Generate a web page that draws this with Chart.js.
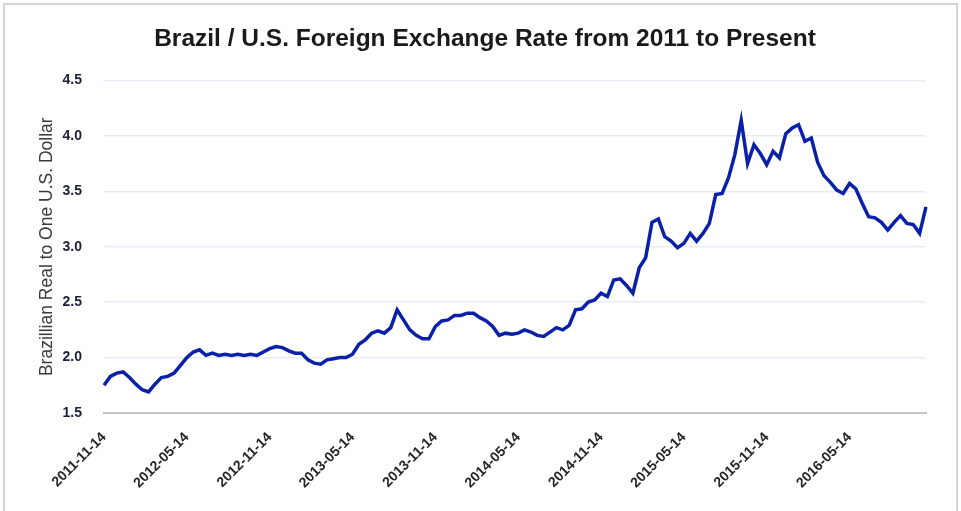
<!DOCTYPE html>
<html>
<head>
<meta charset="utf-8">
<script src="https://cdn.jsdelivr.net/npm/chart.js@4.4.0/dist/chart.umd.min.js"></script>
<style>
  html, body { margin: 0; padding: 0; background: #fff; overflow: hidden; }
  #wrap { position: relative; width: 961px; height: 511px; }
  #frame { position: absolute; left: 3px; top: 3px; width: 955px; height: 530px; border: 2px solid #d4d4d4; box-sizing: border-box; pointer-events: none; }
  canvas { position: absolute; left: 0; top: 0; }
</style>
</head>
<body>
<div id="wrap">
  <canvas id="chart" width="961" height="511"></canvas>
  <div id="frame"></div>
</div>
<script>
// ===== data (one value every two weeks) =====
const START_DATE = "2011-11-14";
const STEP_DAYS = 14;
const POINTS_PER_TICK = 13;   // ~6 months between labelled dates

const tickLabels = [
  "2011-11-14", "2012-05-14", "2012-11-14", "2013-05-14", "2013-11-14",
  "2014-05-14", "2014-11-14", "2015-05-14", "2015-11-14", "2016-05-14",
];

const rates = [
  1.75, 1.83, 1.86, 1.87, 1.82, 1.76, 1.71, 1.69, 1.76, 1.82, 1.83, 1.86, 1.93,
  2.00, 2.05, 2.07, 2.02, 2.04, 2.02, 2.03, 2.02, 2.03, 2.02, 2.03, 2.02, 2.05,
  2.08, 2.10, 2.09, 2.06, 2.04, 2.04, 1.98, 1.95, 1.94, 1.98, 1.99, 2.00, 2.00,
  2.03, 2.12, 2.16, 2.22, 2.24, 2.22, 2.27, 2.43, 2.34, 2.25, 2.20, 2.17, 2.17,
  2.28, 2.33, 2.34, 2.38, 2.38, 2.40, 2.40, 2.36, 2.33, 2.28, 2.20, 2.22, 2.21,
  2.22, 2.25, 2.23, 2.20, 2.19, 2.23, 2.27, 2.25, 2.29, 2.43, 2.44, 2.50, 2.52,
  2.58, 2.55, 2.70, 2.71, 2.65, 2.58, 2.81, 2.90, 3.22, 3.25, 3.09, 3.05, 2.99,
  3.03, 3.12, 3.05, 3.12, 3.21, 3.47, 3.48, 3.62, 3.83, 4.14, 3.75, 3.92, 3.84,
  3.74, 3.86, 3.80, 4.02, 4.07, 4.10, 3.95, 3.98, 3.76, 3.64, 3.58, 3.51, 3.48,
  3.57, 3.52, 3.39, 3.27, 3.26, 3.22, 3.15, 3.22, 3.28, 3.21, 3.20, 3.12, 3.36,
];

const Y_MIN = 1.5;
const Y_MAX = 4.5;
const Y_STEP = 0.5;

// category labels: one date per point
const dates = rates.map((_, i) => {
  const d = new Date(START_DATE + "T00:00:00Z");
  d.setUTCDate(d.getUTCDate() + i * STEP_DAYS);
  return d.toISOString().slice(0, 10);
});

const FONT = "'Liberation Sans', Arial, sans-serif";

new Chart(document.getElementById("chart"), {
  type: "line",
  data: {
    labels: dates,
    datasets: [{
      data: rates,
      borderColor: "#0a20a8",
      borderWidth: 3.5,
      pointRadius: 0,
      tension: 0,
      fill: false,
    }],
  },
  options: {
    responsive: false,
    animation: false,
    devicePixelRatio: 1,
    layout: { padding: { left: 9, right: 0, top: 0, bottom: 0 } },
    plugins: {
      legend: { display: false },
      tooltip: { enabled: false },
      title: {
        display: true,
        text: "Brazil / U.S. Foreign Exchange Rate from 2011 to Present",
        color: "#1a1a1a",
        font: { family: FONT, size: 24.5, weight: "bold" },
        padding: { top: 25, bottom: 26 },
      },
    },
    scales: {
      x: {
        type: "category",
        offset: false,
        grid: { display: false },
        border: { display: true, color: "#c4c4c4", width: 2 },
        ticks: {
          autoSkip: false,
          minRotation: 45,
          maxRotation: 45,
          padding: 8,
          color: "#262626",
          font: { family: FONT, size: 14, weight: "bold" },
          callback: (v) => tickLabels[v / POINTS_PER_TICK],
        },
        afterBuildTicks: (s) => {
          s.ticks = s.ticks.filter(t => t.value % POINTS_PER_TICK === 0);
        },
        afterFit: (s) => { s.height = 98; },
      },
      y: {
        min: Y_MIN,
        max: Y_MAX,
        border: { display: false },
        grid: { color: "#e6edf7", lineWidth: 1.5, drawTicks: false },
        ticks: {
          stepSize: Y_STEP,
          padding: 22,
          color: "#1c1f3a",
          font: { family: FONT, size: 14, weight: "bold" },
          callback: (v) => v.toFixed(1),
        },
        title: {
          display: true,
          text: "Brazillian Real to One U.S. Dollar",
          color: "#3a3a3a",
          font: { family: FONT, size: 17.5 },
          padding: { top: 28, bottom: 0 },
        },
        afterFit: (s) => { s.width = 95; },
      },
      // empty box on the right, keeps the plot off the frame
      y2: {
        type: "linear",
        position: "right",
        grid: { display: false },
        border: { display: false },
        ticks: { display: false },
        afterFit: (s) => { s.width = 35; },
      },
    },
  },
});
</script>
</body>
</html>
